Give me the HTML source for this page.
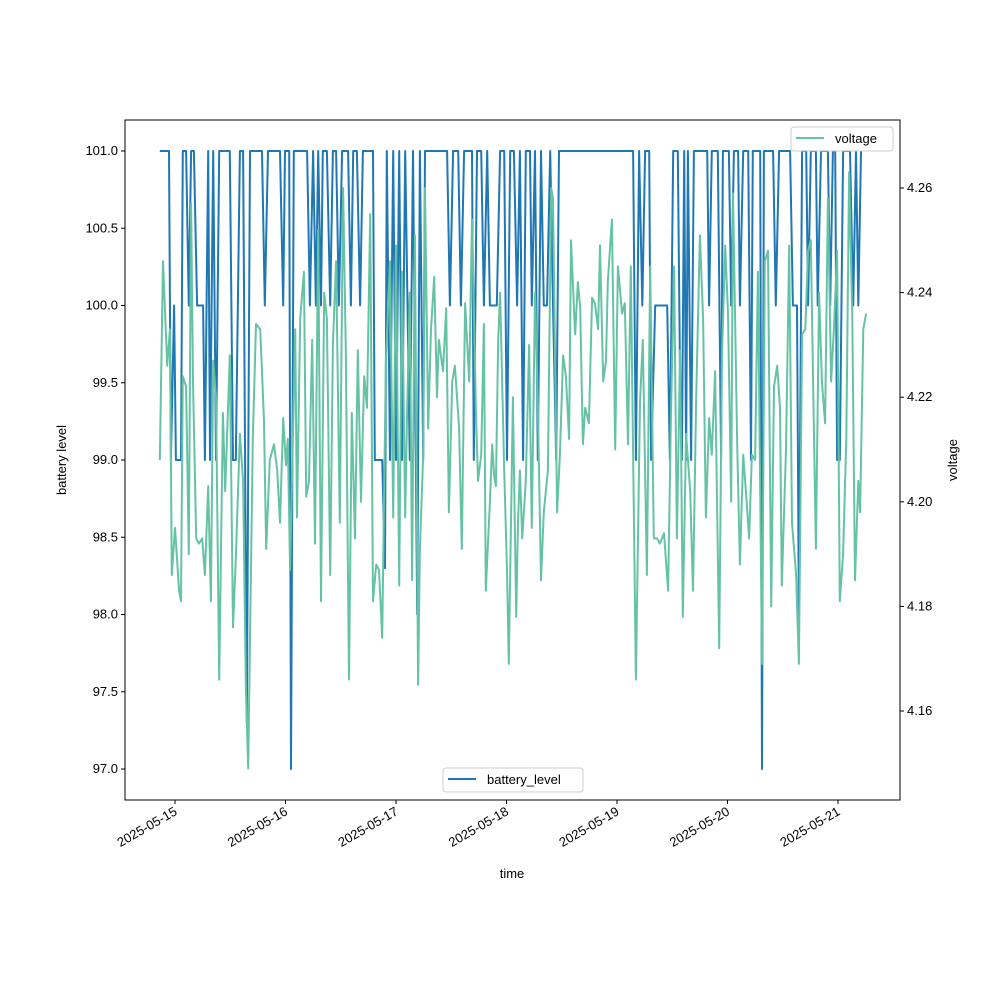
<!DOCTYPE html>
<html><head><meta charset="utf-8">
<style>
body{margin:0;background:#fff;}
svg{display:block;font-family:"Liberation Sans","DejaVu Sans",sans-serif;}
</style></head>
<body>
<svg id="chart" width="1000" height="1000" viewBox="0 0 1000 1000">
<rect x="0" y="0" width="1000" height="1000" fill="#fff"/>
<g id="plot"></g>
<g id="axes"></g>
</svg>
<script>
const dayLabels = ["2025-05-15","2025-05-16","2025-05-17","2025-05-18","2025-05-19","2025-05-20","2025-05-21"];
const leftTicks = [97.0,97.5,98.0,98.5,99.0,99.5,100.0,100.5,101.0];
const rightTicks = [4.16,4.18,4.20,4.22,4.24,4.26];
// hours since 2025-05-15 00:00
const voltHours = [-3.3,-2.6,-1.7,-1.1,-0.7,0,0.9,1.3,1.7,2.4,3.0,3.5,3.9,4.6,5.2,5.9,6.5,7.2,7.8,8.3,8.9,9.6,10.4,10.9,11.9,12.6,13.2,14.1,14.8,15.4,15.9,16.9,17.6,18.5,19.3,19.8,20.6,21.5,22.2,22.8,23.5,24.1,24.5,25.0,26.1,26.5,27.2,28.0,28.5,29.1,29.8,30.4,31.1,31.7,32.4,33.0,33.7,34.3,35.0,35.8,36.5,37.1,37.8,38.4,39.1,39.7,40.4,41.1,41.7,42.4,43.0,43.7,44.3,45.0,45.8,46.7,47.4,48.0,48.7,49.3,50.0,50.4,51.0,51.5,52.1,52.8,53.2,53.9,54.3,55.0,55.6,56.3,56.9,57.3,58.2,58.9,59.5,60.2,60.8,61.7,62.3,63.0,63.9,64.5,65.4,65.8,66.5,67.1,67.5,68.4,68.9,69.3,69.7,70.2,70.6,71.5,72.1,72.5,73.4,74.1,74.5,74.9,75.4,76.2,76.9,77.5,78.2,78.8,79.5,80.1,81.0,81.7,82.1,83.0,83.6,84.3,84.9,85.6,86.0,86.9,87.5,88.0,88.6,89.1,89.9,90.6,91.2,91.9,92.3,93.0,93.6,94.0,94.9,95.6,96.2,97.1,97.7,98.4,99.0,100.1,101.0,101.6,102.5,103.2,104.0,104.7,105.3,106.2,107.1,107.7,108.4,109.0,109.7,110.3,111.0,111.9,112.5,113.2,114.0,114.7,115.3,116.0,116.6,117.3,118.2,118.8,119.5,120.1,120.8,121.2,122.1,122.7,123.4,124.0,124.7,125.3,126.0,126.6,127.5,128.1,128.8,129.5,130.1,130.8,131.4,131.8,132.7,133.4,134.0,134.9,135.5,136.2,136.9,137.5,138.1,138.6,139.2,139.9,140.5,141.2,141.8,142.5,143.1,143.8,144.4,145.1,145.8,146.4,147.1,147.7,148.4,148.8,149.5,150.1];
const voltValues = [4.208,4.246,4.226,4.233,4.186,4.195,4.183,4.181,4.224,4.222,4.190,4.257,4.223,4.193,4.192,4.193,4.186,4.203,4.181,4.227,4.220,4.166,4.217,4.202,4.228,4.176,4.189,4.213,4.204,4.164,4.149,4.212,4.234,4.233,4.216,4.191,4.208,4.211,4.206,4.196,4.216,4.207,4.212,4.187,4.233,4.197,4.235,4.244,4.201,4.204,4.231,4.192,4.252,4.181,4.240,4.235,4.186,4.230,4.246,4.196,4.260,4.229,4.166,4.217,4.193,4.229,4.200,4.224,4.218,4.255,4.181,4.188,4.187,4.174,4.227,4.246,4.197,4.249,4.184,4.244,4.197,4.216,4.240,4.185,4.251,4.165,4.191,4.209,4.260,4.214,4.233,4.243,4.220,4.231,4.225,4.237,4.198,4.223,4.226,4.214,4.191,4.238,4.223,4.254,4.216,4.204,4.209,4.234,4.183,4.200,4.211,4.205,4.203,4.231,4.240,4.206,4.187,4.169,4.220,4.178,4.196,4.206,4.193,4.204,4.230,4.195,4.240,4.219,4.185,4.198,4.206,4.260,4.258,4.198,4.209,4.228,4.224,4.212,4.250,4.232,4.242,4.237,4.211,4.218,4.215,4.239,4.238,4.233,4.249,4.223,4.227,4.242,4.254,4.210,4.245,4.236,4.238,4.211,4.245,4.166,4.219,4.231,4.186,4.245,4.193,4.193,4.192,4.194,4.183,4.216,4.245,4.193,4.229,4.178,4.213,4.202,4.183,4.220,4.251,4.235,4.197,4.216,4.209,4.225,4.172,4.228,4.249,4.236,4.200,4.259,4.211,4.188,4.209,4.202,4.193,4.209,4.208,4.244,4.169,4.246,4.248,4.180,4.222,4.226,4.218,4.184,4.210,4.249,4.196,4.186,4.169,4.232,4.233,4.248,4.250,4.223,4.191,4.240,4.223,4.215,4.258,4.223,4.233,4.248,4.181,4.190,4.212,4.263,4.235,4.185,4.204,4.198,4.233,4.236];
const battHours = [-3.3,-1.3,-0.9,-0.2,0.2,1.3,1.7,2.4,3.0,3.5,4.1,4.8,6.1,6.5,7.2,7.6,8.3,8.9,9.6,11.9,12.6,13.2,14.1,14.8,15.6,16.3,18.9,19.5,20.2,22.8,23.5,23.9,24.8,25.2,25.8,28.7,29.3,30.0,30.6,31.1,31.7,32.1,33.0,33.7,34.3,35.0,35.6,36.3,37.6,38.2,38.7,39.5,40.2,40.8,43.0,43.4,45.0,45.6,46.0,46.7,47.4,48.0,48.7,49.3,50.0,51.0,51.7,52.6,53.2,53.9,54.3,59.1,59.7,60.4,61.5,62.1,62.8,64.5,64.9,65.6,66.5,67.1,67.8,68.4,69.9,70.6,71.5,72.1,72.8,73.6,74.3,74.9,75.6,76.2,77.1,77.5,78.2,78.8,79.5,80.1,80.8,81.5,82.1,82.8,83.4,99.5,100.1,100.8,101.5,102.1,103.0,103.4,104.3,106.9,107.5,108.2,109.2,109.7,110.1,110.6,111.0,111.4,112.1,112.7,115.6,116.0,116.6,117.9,118.6,119.0,120.3,120.8,121.4,122.3,122.7,123.4,124.5,125.1,125.5,127.1,127.5,127.9,129.9,130.5,131.2,133.1,133.6,134.2,135.1,135.5,136.2,137.1,137.5,138.1,139.2,139.6,140.3,141.8,142.3,142.9,143.4,143.8,144.4,145.1,146.6,147.3,147.9,148.4,149.0];
const battValues = [101,101,99,100,99,99,101,101,100,101,101,100,100,99,101,99,101,99,101,101,99,99,101,101,97.3,101,101,100,101,101,100,101,101,97,101,101,100,101,100,101,100,101,101,100,101,101,100,101,101,100,101,101,100,101,101,99,99,98.3,101,99,101,99,101,99,101,99,101,98,101,99,101,101,100,101,101,100,101,101,99,101,101,100,101,100,100,101,101,99,101,101,100,101,99,101,101,100,101,99,101,100,100,101,100,99,101,101,99,101,100,101,101,99,100,100,99,101,101,99.5,99,101,99,101,99,101,101,100,101,101,99,101,101,100,101,101,100,101,101,99,101,101,97,101,101,100,101,101,101,100,100,98,101,101,100,101,101,100,101,101,100,101,101,99,99,101,101,100,101,100,101];

const NS = "http://www.w3.org/2000/svg";
const L=125,R=900,T=120,B=800;
const xScale = h => 175 + h*110.5/24;
const yLeft = v => 151 + (101 - v)*154.5;
const yRight = v => 188 + (4.26 - v)*5230;
function mk(tag, attrs, parent){const e=document.createElementNS(NS,tag);for(const k in attrs)e.setAttribute(k,attrs[k]);parent.appendChild(e);return e;}
const plot=document.getElementById('plot'), axes=document.getElementById('axes');

const bp = battHours.map((h,i)=>xScale(h).toFixed(1)+","+yLeft(battValues[i]).toFixed(1)).join(" ");
const bl = mk('polyline',{points:bp,fill:'none',stroke:'#1f77b4','stroke-width':2,'stroke-linejoin':'round'},plot);


const vp = voltHours.map((h,i)=>xScale(h).toFixed(1)+","+yRight(voltValues[i]).toFixed(1)).join(" ");
const vl = mk('polyline',{points:vp,fill:'none',stroke:'#66c2a5','stroke-width':2,'stroke-linejoin':'round'},plot);



const frame = mk('rect',{x:L,y:T,width:R-L,height:B-T,fill:'none',stroke:'#000','stroke-width':1},axes);



leftTicks.forEach(v=>{
  const y=yLeft(v);
  mk('line',{x1:L-4,x2:L,y1:y,y2:y,stroke:'#000'},axes);
  const t=mk('text',{x:L-7,y:y+4,'text-anchor':'end','font-size':13,fill:'#000'},axes);
  t.textContent=v.toFixed(1);
  
  
});
rightTicks.forEach(v=>{
  const y=yRight(v);
  mk('line',{x1:R,x2:R+4,y1:y,y2:y,stroke:'#000'},axes);
  const t=mk('text',{x:R+7,y:y+4,'text-anchor':'start','font-size':13,fill:'#000'},axes);
  t.textContent=v.toFixed(2);
  
  
});
dayLabels.forEach((d,i)=>{
  const x=xScale(i*24);
  mk('line',{x1:x,x2:x,y1:B,y2:B+4,stroke:'#000'},axes);
  const t=mk('text',{x:x+3,y:B+14,'text-anchor':'end','font-size':13,fill:'#000',transform:`rotate(-30 ${x+3} ${B+14})`},axes);
  t.textContent=d;
  
  
});
</script>
<svg style="position:absolute;left:0;top:0" width="1000" height="1000">
<text x="512" y="878" text-anchor="middle" font-size="13" font-family="Liberation Sans, sans-serif">time</text>
<text x="66" y="460" text-anchor="middle" font-size="13" font-family="Liberation Sans, sans-serif" transform="rotate(-90 66 460)">battery level</text>
<text x="957" y="460" text-anchor="middle" font-size="13" font-family="Liberation Sans, sans-serif" transform="rotate(-90 957 460)">voltage</text>
<g>
<rect x="443" y="768" width="140" height="24" rx="3" fill="#fff" fill-opacity="0.8" stroke="#ccc"/>
<line x1="448" y1="779" x2="476" y2="779" stroke="#1f77b4" stroke-width="2"/>
<text x="487" y="784" font-size="13" font-family="Liberation Sans, sans-serif">battery_level</text>
</g>
<g>
<rect x="791" y="127" width="102" height="24" rx="3" fill="#fff" fill-opacity="0.8" stroke="#ccc"/>
<line x1="796" y1="138" x2="824" y2="138" stroke="#66c2a5" stroke-width="2"/>
<text x="835" y="143" font-size="13" font-family="Liberation Sans, sans-serif">voltage</text>
</g>
</svg>
</body></html>
